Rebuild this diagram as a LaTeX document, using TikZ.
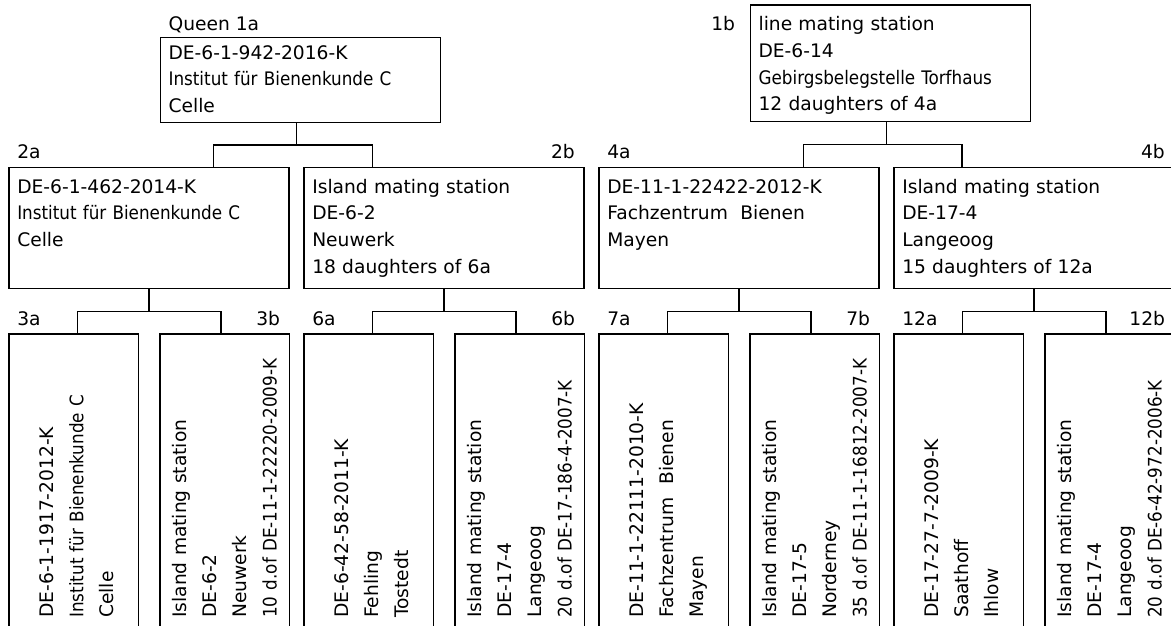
\documentclass[tikz,border=0pt]{standalone}
\usepackage{fontspec}
\setmainfont{DejaVu Sans}
\newfontfamily\condfont{DejaVu Sans Condensed}
\usetikzlibrary{calc}
\tikzset{qbox/.style={
  draw=black,
  line width=1pt,
  rectangle,
  inner sep=0pt,
  outer sep=0pt,
  anchor=north west}}
\tikzset{qtext/.style={
  anchor=base west,
  inner sep=0pt,
  text width=250pt,
  align=left,
  font=\fontsize{14}{20}\selectfont}}
\tikzset{qtag/.style={
  inner sep=0pt,
  font=\fontsize{14}{20}\selectfont}}
\tikzset{qline/.style={
  draw=black,
  line width=1pt}}

\begin{document}
\begin{tikzpicture}[
  x=0.75pt,y=-0.75pt,
  qside/.style={
    rotate=90,
    anchor=west,
    inner sep=0pt,
    text width=240pt,
    align=left,
    font=\fontsize{14}{22.5}\selectfont}
]
  \useasboundingbox (0,0) rectangle (1171,625);
  \clip (0,0) rectangle (1171,625);

  %%%% Boxes %%%%
  %% First row
  \node[qbox,minimum width=210pt,minimum height=63.5pt] (q1a) at (160.3,37.7) {};
  \node[qbox,minimum width=210pt,minimum height=87.5pt] (q1b) at (750.3,5) {};
  %% Second row
  \foreach \n/\x in {2a/9,2b/304,4a/599,4b/894}{
    \node[qbox,minimum width=210pt,minimum height=91pt] (q\n) at (\x,167.3) {};
  }
  %% Third row, runs out of the page
  \foreach \n/\x in {3a/9,3b/160,6a/304,6b/455,7a/599,7b/750,12a/894,12b/1045}{
    \node[qbox,minimum width=97pt,minimum height=222pt] (q\n) at (\x,334) {};
  }

  %%%% Tags above the boxes %%%%
  \node[qtag,anchor=base west] (g1a) at ($(q1a.north west)+(8,-7.7)$) {Queen 1a};
  \node[qtag,anchor=base east] (g1b) at ($(q1b.north west)+(-15,25.7)$) {1b};
  \foreach \n in {2a,4a,3a,6a,7a,12a}{
    \node[qtag,anchor=base west] (g\n) at ($(q\n.north west)+(8,-9)$) {\n};
  }
  \foreach \n in {2b,4b,3b,6b,7b,12b}{
    \node[qtag,anchor=base east] (g\n) at ($(q\n.north east)+(-9,-9)$) {\n};
  }

  %%%% Texts %%%%
  \node[qtext] (t1a) at ($(q1a.north west)+(8,21.3)$)
    {DE-6-1-942-2016-K\\{\condfont Institut für Bienenkunde C}\\Celle};
  \node[qtext] (t1b) at ($(q1b.north west)+(8,25.7)$)
    {line mating station\\DE-6-14\\{\condfont Gebirgsbelegstelle Torfhaus}\\12 daughters of 4a};
  \node[qtext] (t2a) at ($(q2a.north west)+(8,26)$)
    {DE-6-1-462-2014-K\\{\condfont Institut für Bienenkunde C}\\Celle};
  \node[qtext] (t2b) at ($(q2b.north west)+(8,26)$)
    {Island mating station\\DE-6-2\\Neuwerk\\18 daughters of 6a};
  \node[qtext] (t4a) at ($(q4a.north west)+(8,26)$)
    {DE-11-1-22422-2012-K\\Fachzentrum\ \ Bienen\\Mayen};
  \node[qtext] (t4b) at ($(q4b.north west)+(8,26)$)
    {Island mating station\\DE-17-4\\Langeoog\\15 daughters of 12a};

  %% rotated texts, bottom row
  \node[qside] (t3a) at ($(q3a.north)+(3,284)$)
    {DE-6-1-1917-2012-K\\{\condfont Institut für Bienenkunde C}\\Celle};
  \node[qside] (t3b) at ($(q3b.north)+(0,284)$)
    {Island mating station\\DE-6-2\\Neuwerk\\{\condfont 10 d.of DE-11-1-22220-2009-K}};
  \node[qside] (t6a) at ($(q6a.north)+(3,284)$)
    {DE-6-42-58-2011-K\\Fehling\\Tostedt};
  \node[qside] (t6b) at ($(q6b.north)+(0,284)$)
    {Island mating station\\DE-17-4\\Langeoog\\{\condfont 20 d.of DE-17-186-4-2007-K}};
  \node[qside] (t7a) at ($(q7a.north)+(5,284)$)
    {DE-11-1-22111-2010-K\\Fachzentrum\ \ Bienen\\Mayen};
  \node[qside] (t7b) at ($(q7b.north)+(0,284)$)
    {Island mating station\\DE-17-5\\Norderney\\{\condfont 35 d.of DE-11-1-16812-2007-K}};
  \node[qside] (t12a) at ($(q12a.north)+(3,284)$)
    {DE-17-27-7-2009-K\\Saathoff\\Ihlow};
  \node[qside] (t12b) at ($(q12b.north)+(0,284)$)
    {Island mating station\\DE-17-4\\Langeoog\\{\condfont 20 d.of DE-6-42-972-2006-K}};

  %%%% Forks: parent/left/right and their shifts %%%%
  \foreach \mom/\kida/\kidb/\xm/\xa/\xb in {1a/2a/2b/-4/64.3/-71.7,1b/4a/4b/-3.6/64.3/-72,2a/3a/3b/0/3.6/-3.7,2b/6a/6b/0/3.6/-3.7,4a/7a/7b/0/3.6/-3.7,4b/12a/12b/0/3.6/-3.7}{
    \coordinate (m\mom) at ($(q\mom.south)!.5!(q\kida.north)$);
    \coordinate (a\mom) at ($(q\mom.south)+(\xm,0)$);
    \coordinate (b\mom) at ($(q\kida.north)+(\xa,0)$);
    \coordinate (c\mom) at ($(q\kidb.north)+(\xb,0)$);
    \draw[qline] (a\mom) -- (a\mom |- m\mom);
    \draw[qline] (b\mom) -- (b\mom |- m\mom) -- (c\mom |- m\mom) -- (c\mom);
  }

\end{tikzpicture}
\end{document}
